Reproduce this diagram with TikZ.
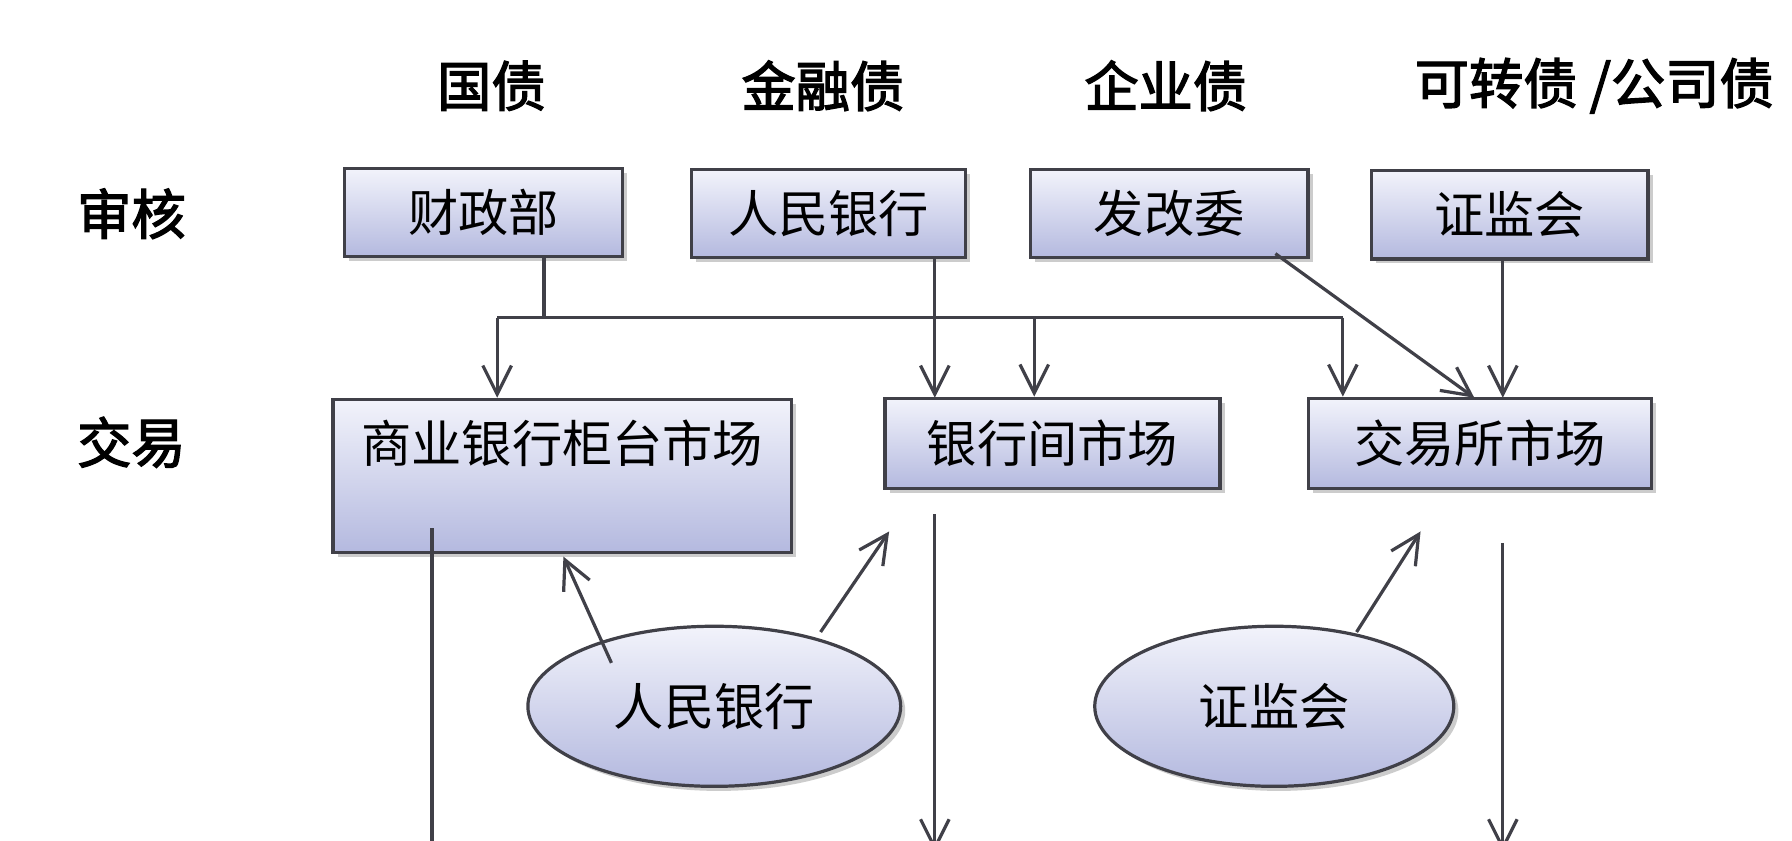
\documentclass[tikz,border=0pt]{standalone}
\usepackage{fontspec}
\newfontfamily\cjk{Noto Sans CJK SC}
\newfontfamily\cjkb[FakeBold=2.5]{Noto Sans CJK SC}
\usetikzlibrary{positioning,shadows,arrows.meta,shapes.geometric}
\definecolor{boxtop}{HTML}{F2F3FB}
\definecolor{boxbot}{HTML}{B4B9DF}
\definecolor{linec}{HTML}{404048}
\begin{document}
\begin{tikzpicture}
    [x=0.01cm,y=-0.01cm,
     every node/.style={font=\cjk},
     head/.style={font=\cjkb\fontsize{13.5}{13.5}\selectfont},
     box/.style={draw=linec,thick,top color=boxtop,bottom color=boxbot,
       drop shadow={shadow xshift=0.4mm,shadow yshift=-0.4mm,opacity=0.4},
       font=\cjk\fontsize{12.5}{12.5}\selectfont,inner sep=0pt},
     oval/.style={ellipse,draw=linec,thick,top color=boxtop,bottom color=boxbot,
       drop shadow={shadow xshift=0.4mm,shadow yshift=-0.4mm,opacity=0.4},
       font=\cjk\fontsize{12.5}{12.5}\selectfont,inner sep=0pt},
     connect/.style={draw=linec,thick},
     arr/.style={connect,-{Straight Barb[length=2.5mm,width=2.5mm]}}]
    \useasboundingbox (0,0) rectangle (1568,735);
    \fill[white] (0,0) rectangle (1568,735);
    % headings
    \node[head] (h1) at (430,75) {国债};
    \node[head] (h2) at (720,75) {金融债};
    \node[head] (h3) at (1020,75) {企业债};
    \node[head] (h4) at (1395,75) {可转债 /公司债};
    \node[head] (r1) at (115,187) {审核};
    \node[head] (r2) at (115,387) {交易};
    % approval boxes
    \node[box,minimum width=2.43cm,minimum height=0.77cm] (czb) at (423,186) {财政部};
    \node[box,minimum width=2.40cm,minimum height=0.77cm] (rmyh) at (725,187) {人民银行};
    \node[box,minimum width=2.43cm,minimum height=0.77cm] (fgw) at (1023,187) {发改委};
    \node[box,minimum width=2.42cm,minimum height=0.77cm] (zjh) at (1321,188) {证监会};
    % markets
    \node[box,minimum width=4.01cm,minimum height=1.34cm,anchor=north] (gtsc) at (492,348) {};
    \node[font=\cjk\fontsize{12.5}{12.5}\selectfont] (gtt) at (492,388) {商业银行柜台市场};
    \node[box,minimum width=2.93cm,minimum height=0.79cm] (yhj) at (921,388) {银行间市场};
    \node[box,minimum width=3.00cm,minimum height=0.79cm] (jys) at (1295,388) {交易所市场};
    % regulators
    \node[oval,minimum width=3.26cm,minimum height=1.40cm] (rmyh2) at (625,618) {人民银行};
    \node[oval,minimum width=3.14cm,minimum height=1.40cm] (zjh2) at (1115,618) {证监会};
    % connectors
    \coordinate (c1) at (476,278);
    \coordinate (c2) at (435,278);
    \coordinate (c3) at (1175,278);
    \coordinate (c4) at (905,278);
    \draw[connect] (czb.south -| c1) -- (c1);
    \draw[connect] (c2) -- (c3);
    \draw[arr] (c2) -- (c2 |- gtsc.north);
    \draw[arr] (c3) -- (c3 |- jys.north);
    \draw[arr] (c4) -- (c4 |- yhj.north);
    \draw[arr] (rmyh.south -| 818,0) -- (818,348);
    \draw[arr] (fgw.south east) ++(-30,-5) -- (1290,348);
    \draw[arr] (zjh.south -| 1315,0) -- (1315,348);
    \coordinate (e1) at (535,580);
    \coordinate (e2) at (718,553);
    \coordinate (e3) at (1187,553);
    \draw[arr] (e1) -- (493,487);
    \draw[arr] (e2) -- (778,465);
    \draw[arr] (e3) -- (1243,465);
    % outgoing lines
    \coordinate (o1) at (378,462);
    \coordinate (o2) at (818,450);
    \coordinate (o3) at (1315,475);
    \draw[connect] (o1) -- (378,740);
    \draw[arr] (o2) -- (818,745);
    \draw[arr] (o3) -- (1315,745);
\end{tikzpicture}
\end{document}
